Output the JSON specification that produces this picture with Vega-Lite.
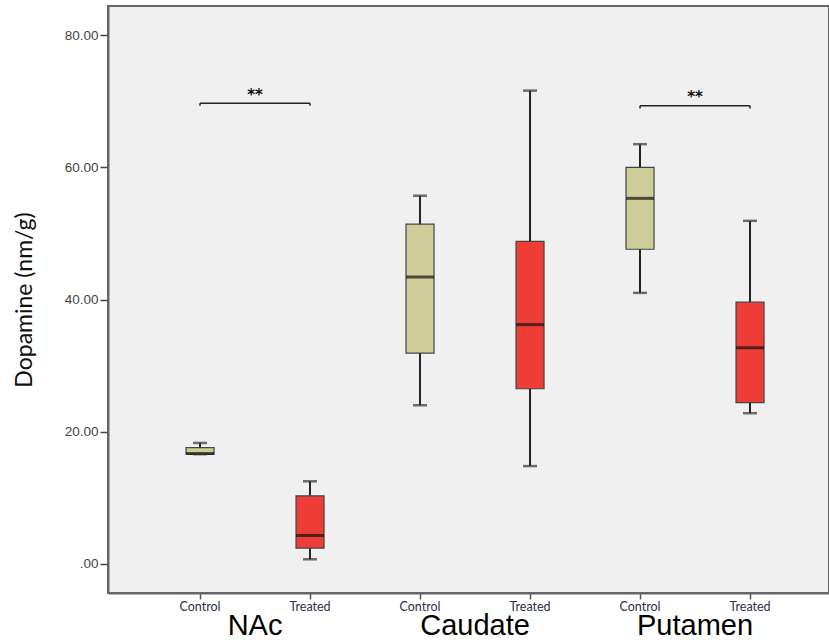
{
  "$schema": "https://vega.github.io/schema/vega-lite/v6.json",
  "autosize": {"type": "none"},
  "width": 721,
  "height": 587,
  "padding": {"left": 108, "top": 6, "right": 0, "bottom": 50},
  "background": "white",
  "config": {
    "view": {"fill": "#f0f0f0", "stroke": "#666666", "strokeWidth": 2},
    "axis": {"grid": false}
  },
  "datasets": {
    "boxes": [
      {"cat": "NAc|Control", "group": "Control", "min": 16.6, "q1": 16.6, "median": 16.7, "q3": 17.6, "max": 18.3},
      {"cat": "NAc|Treated", "group": "Treated", "min": 0.7, "q1": 2.4, "median": 4.3, "q3": 10.3, "max": 12.5},
      {"cat": "Caudate|Control", "group": "Control", "min": 24.0, "q1": 31.9, "median": 43.4, "q3": 51.4, "max": 55.7},
      {"cat": "Caudate|Treated", "group": "Treated", "min": 14.8, "q1": 26.5, "median": 36.2, "q3": 48.8, "max": 71.6},
      {"cat": "Putamen|Control", "group": "Control", "min": 41.0, "q1": 47.6, "median": 55.3, "q3": 60.0, "max": 63.5},
      {"cat": "Putamen|Treated", "group": "Treated", "min": 22.8, "q1": 24.4, "median": 32.7, "q3": 39.6, "max": 51.9}
    ],
    "sig": [
      {"from": "NAc|Control", "to": "NAc|Treated", "y": 69.7, "ylow": 69.3},
      {"from": "Putamen|Control", "to": "Putamen|Treated", "y": 69.3, "ylow": 68.9}
    ],
    "stars": [
      {"region": "NAc", "label": "**", "y": 71.0},
      {"region": "Putamen", "label": "**", "y": 70.6}
    ]
  },
  "resolve": {"scale": {"x": "independent"}, "axis": {"x": "independent"}},
  "layer": [
    {
      "layer": [
        {
          "data": {"name": "boxes"},
          "encoding": {
            "x": {
              "field": "cat", "type": "nominal",
              "scale": {"type": "band", "domain": ["NAc|Control", "NAc|Treated", "Caudate|Control", "Caudate|Treated", "Putamen|Control", "Putamen|Treated"], "paddingInner": 0, "paddingOuter": 0.2773, "align": 0.607},
              "axis": {
                "orient": "bottom", "title": null, "labelAngle": 0,
                "labelExpr": "split(datum.label, '|')[1]",
                "labelFont": "Lato", "labelFontSize": 12.5, "labelColor": "#2b2f4a",
                "labelPadding": 1,
                "domainColor": "#666666", "domainWidth": 2,
                "tickColor": "#555555", "tickWidth": 1.5, "tickSize": 6
              }
            }
          },
          "layer": [
            {
              "mark": {"type": "rule", "color": "#222222", "strokeWidth": 2},
              "encoding": {
                "y": {"field": "min", "type": "quantitative", "scale": {"domain": [-4.4, 84.4], "nice": false, "zero": false},
                  "axis": {
                    "title": "Dopamine (nm/g)", "titleFont": "Lato", "titleFontSize": 23, "titleFontWeight": "normal", "titleColor": "#111111",
                    "titleX": -84, "titleBaseline": "middle",
                    "values": [0, 20, 40, 60, 80],
                    "labelExpr": "datum.value == 0 ? '.00' : format(datum.value, '.2f')",
                    "labelFont": "Liberation Sans", "labelFontSize": 13.5, "labelColor": "#444444", "labelPadding": 2,
                    "domainColor": "#666666", "domainWidth": 2,
                    "tickColor": "#444444", "tickWidth": 1.5, "tickSize": 8
                  }
                },
                "y2": {"field": "max"}
              }
            },
            {
              "mark": {"type": "bar", "size": 28, "stroke": "#444444", "strokeWidth": 1.2},
              "encoding": {
                "y": {"field": "q1", "type": "quantitative"},
                "y2": {"field": "q3"},
                "color": {"field": "group", "type": "nominal", "scale": {"domain": ["Control", "Treated"], "range": ["#cfcd9a", "#ee3d37"]}, "legend": null}
              }
            },
            {
              "mark": {"type": "tick", "size": 28, "thickness": 3, "color": "#111111"},
              "encoding": {"y": {"field": "median", "type": "quantitative"}}
            },
            {
              "mark": {"type": "tick", "size": 14, "thickness": 2.5, "color": "#333333"},
              "encoding": {"y": {"field": "max", "type": "quantitative"}}
            },
            {
              "mark": {"type": "tick", "size": 14, "thickness": 2.5, "color": "#333333"},
              "encoding": {"y": {"field": "min", "type": "quantitative"}}
            }
          ]
        },
        {
          "data": {"name": "sig"},
          "layer": [
            {
              "mark": {"type": "rule", "color": "#222222", "strokeWidth": 1.5},
              "encoding": {
                "x": {"field": "from", "type": "nominal"},
                "x2": {"field": "to"},
                "y": {"field": "y", "type": "quantitative"}
              }
            },
            {
              "mark": {"type": "rule", "color": "#222222", "strokeWidth": 1.5},
              "encoding": {
                "x": {"field": "from", "type": "nominal"},
                "y": {"field": "y", "type": "quantitative"},
                "y2": {"field": "ylow"}
              }
            },
            {
              "mark": {"type": "rule", "color": "#222222", "strokeWidth": 1.5},
              "encoding": {
                "x": {"field": "to", "type": "nominal"},
                "y": {"field": "y", "type": "quantitative"},
                "y2": {"field": "ylow"}
              }
            }
          ]
        }
      ]
    },
    {
      "data": {"name": "stars"},
      "mark": {"type": "text", "font": "DejaVu Sans", "fontSize": 15, "fontWeight": "bold", "color": "#111111", "baseline": "middle"},
      "encoding": {
        "x": {
          "field": "region", "type": "nominal",
          "scale": {"type": "band", "domain": ["NAc", "Caudate", "Putamen"], "paddingInner": 0, "paddingOuter": 0.1386, "align": 0.607},
          "axis": {
            "orient": "bottom", "title": null, "labelAngle": 0,
            "labelFont": "Liberation Sans", "labelFontSize": 29, "labelColor": "#000000",
            "domain": false, "ticks": false, "labelPadding": 18
          }
        },
        "y": {"field": "y", "type": "quantitative"},
        "text": {"field": "label"}
      }
    }
  ]
}
